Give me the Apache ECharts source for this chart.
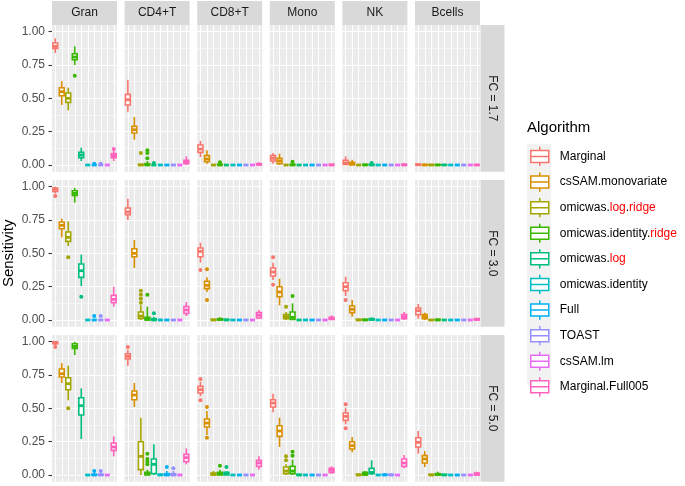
<!DOCTYPE html>
<html>
<head>
<meta charset="utf-8">
<script src="https://cdn.jsdelivr.net/npm/echarts@6/dist/echarts.min.js"></script>
<style>html,body{margin:0;padding:0;background:#fff}#chart{width:685px;height:486px}</style>
</head>
<body>
<div id="chart"></div>
<script>
// ---------- data ----------
const ALGOS = ['Marginal','csSAM.monovariate','omicwas.log.ridge','omicwas.identity.ridge','omicwas.log','omicwas.identity','Full','TOAST','csSAM.lm','Marginal.Full005'];
const CELLS = ['Gran','CD4+T','CD8+T','Mono','NK','Bcells'];
const FCS = ['FC = 1.7','FC = 3.0','FC = 5.0'];
const Y_TICKS = [0, 0.25, 0.5, 0.75, 1];

// box stats per algorithm: [min, q1, median, q3, max]
const box_Gran_17 = [[0.84,0.875,0.89,0.915,0.95],[0.45,0.52,0.55,0.58,0.63],[0.41,0.47,0.50,0.54,0.58],[0.75,0.79,0.81,0.835,0.89],[0.03,0.055,0.075,0.095,0.13],[0,0,0,0,0.005],[0,0,0,0,0.005],[0,0,0,0,0.005],[0,0,0,0,0.005],[0.03,0.055,0.07,0.085,0.11]];
const out_Gran_17 = [[3,0.67],[9,0.12],[6,0.01],[7,0.01]];
const box_CD4_17 = [[0.40,0.45,0.49,0.53,0.64],[0.19,0.24,0.265,0.29,0.36],[0,0,0,0.005,0.01],[0,0,0,0.01,0.03],[0,0,0,0,0.01],[0,0,0,0,0.005],[0,0,0,0,0],[0,0,0,0,0],[0,0,0,0,0],[0,0.01,0.02,0.035,0.065]];
const out_CD4_17 = [[2,0.09],[3,0.11],[3,0.09],[3,0.05],[4,0.015]];
const box_CD8_17 = [[0.06,0.095,0.12,0.15,0.18],[0.01,0.025,0.045,0.07,0.11],[0,0,0,0,0.005],[0,0,0,0.005,0.015],[0,0,0,0,0.005],[0,0,0,0,0],[0,0,0,0,0],[0,0,0,0,0],[0,0,0,0,0],[0,0,0.005,0.01,0.02]];
const out_CD8_17 = [[3,0.02]];
const box_Mono_17 = [[0.01,0.03,0.05,0.07,0.09],[0,0.01,0.03,0.05,0.085],[0,0,0,0,0.005],[0,0,0,0.005,0.015],[0,0,0,0,0.005],[0,0,0,0,0],[0,0,0,0,0],[0,0,0,0,0],[0,0,0,0,0],[0,0,0,0.005,0.01]];
const out_Mono_17 = [[3,0.025]];
const box_NK_17 = [[0,0.005,0.015,0.035,0.065],[0,0,0.01,0.02,0.04],[0,0,0,0,0.005],[0,0,0,0.005,0.01],[0,0,0,0.005,0.01],[0,0,0,0,0],[0,0,0,0,0],[0,0,0,0,0],[0,0,0,0,0],[0,0,0,0.005,0.015]];
const out_NK_17 = [[4,0.015]];
const box_B_17 = [[0,0,0.002,0.006,0.012],[0,0,0,0.004,0.01],[0,0,0,0.003,0.008],[0,0,0,0.003,0.008],[0,0,0,0.003,0.008],[0,0,0,0,0.005],[0,0,0,0,0.005],[0,0,0,0,0.005],[0,0,0,0,0.005],[0,0,0,0.003,0.008]];
const out_B_17 = [];

const box_Gran_30 = [[0.95,0.965,0.98,0.99,1.0],[0.62,0.685,0.71,0.735,0.76],[0.555,0.59,0.62,0.66,0.74],[0.88,0.935,0.95,0.97,0.99],[0.255,0.32,0.37,0.42,0.49],[0,0,0,0,0],[0,0,0,0,0.005],[0,0,0,0,0.005],[0,0,0,0,0],[0.10,0.13,0.155,0.185,0.25]];
const out_Gran_30 = [[0,0.93],[2,0.47],[4,0.175],[6,0.03],[7,0.03]];
const box_CD4_30 = [[0.75,0.79,0.81,0.84,0.91],[0.39,0.475,0.50,0.535,0.60],[0,0.012,0.03,0.06,0.11],[0,0,0.005,0.02,0.10],[0,0,0,0.01,0.025],[0,0,0,0,0.01],[0,0,0,0,0],[0,0,0,0,0],[0,0,0,0,0],[0.03,0.05,0.075,0.10,0.135]];
const out_CD4_30 = [[2,0.22],[2,0.19],[2,0.16],[2,0.13],[3,0.19],[4,0.05]];
const box_CD8_30 = [[0.43,0.475,0.515,0.54,0.58],[0.21,0.235,0.26,0.29,0.32],[0,0,0,0.005,0.01],[0,0,0.005,0.01,0.02],[0,0,0,0.005,0.01],[0,0,0,0,0],[0,0,0,0,0],[0,0,0,0,0],[0,0,0,0,0],[0.01,0.015,0.035,0.055,0.075]];
const out_CD8_30 = [[0,0.375],[1,0.38],[1,0.15]];
const box_Mono_30 = [[0.30,0.33,0.36,0.39,0.43],[0.11,0.175,0.21,0.25,0.31],[0,0.01,0.025,0.04,0.06],[0,0.005,0.02,0.06,0.125],[0,0,0,0,0.005],[0,0,0,0,0],[0,0,0,0,0],[0,0,0,0,0],[0,0,0,0,0],[0,0.005,0.01,0.02,0.035]];
const out_Mono_30 = [[0,0.47],[0,0.265],[2,0.10],[3,0.18]];
const box_NK_30 = [[0.18,0.22,0.25,0.28,0.325],[0.025,0.055,0.08,0.105,0.15],[0,0,0,0.005,0.01],[0,0,0,0.005,0.01],[0,0,0.005,0.01,0.02],[0,0,0,0,0],[0,0,0,0,0],[0,0,0,0,0],[0,0,0,0,0],[0,0.01,0.025,0.04,0.06]];
const out_NK_30 = [[0,0.15]];
const box_B_30 = [[0.01,0.04,0.07,0.09,0.12],[0,0.01,0.025,0.04,0.055],[0,0,0,0.002,0.005],[0,0,0,0.005,0.01],[0,0,0,0,0.005],[0,0,0,0,0],[0,0,0,0,0],[0,0,0,0,0],[0,0,0,0,0],[0,0,0.005,0.01,0.015]];
const out_B_30 = [];

const box_Gran_50 = [[0.975,0.985,0.99,1.0,1.0],[0.69,0.735,0.76,0.795,0.84],[0.56,0.64,0.685,0.73,0.82],[0.90,0.95,0.965,0.985,1.0],[0.27,0.45,0.52,0.58,0.65],[0,0,0,0,0.005],[0,0,0,0.005,0.015],[0,0,0,0.005,0.015],[0,0,0,0,0.005],[0.14,0.185,0.21,0.24,0.29]];
const out_Gran_50 = [[0,0.96],[2,0.50],[6,0.03],[7,0.03]];
const box_CD4_50 = [[0.82,0.87,0.89,0.91,0.94],[0.51,0.565,0.60,0.63,0.69],[0,0.04,0.14,0.25,0.43],[0,0,0.01,0.02,0.04],[0,0.01,0.08,0.12,0.23],[0,0,0,0.005,0.015],[0,0,0,0.01,0.03],[0,0,0,0.01,0.03],[0,0,0,0,0.01],[0.08,0.10,0.13,0.155,0.20]];
const out_CD4_50 = [[0,0.96],[3,0.16],[3,0.12],[3,0.10],[3,0.08],[6,0.06],[7,0.05]];
const box_CD8_50 = [[0.59,0.615,0.64,0.665,0.70],[0.30,0.36,0.39,0.42,0.48],[0,0,0.005,0.015,0.03],[0,0,0.01,0.02,0.04],[0,0,0.01,0.02,0.03],[0,0,0,0,0.005],[0,0,0,0,0.005],[0,0,0,0,0.005],[0,0,0,0,0],[0.04,0.065,0.09,0.11,0.14]];
const out_CD8_50 = [[0,0.72],[0,0.56],[1,0.51],[1,0.28],[3,0.07],[4,0.06]];
const box_Mono_50 = [[0.47,0.51,0.54,0.565,0.61],[0.21,0.29,0.33,0.37,0.43],[0,0.01,0.03,0.06,0.08],[0,0.01,0.03,0.065,0.115],[0,0,0,0.005,0.01],[0,0,0,0,0],[0,0,0,0,0],[0,0,0,0,0],[0,0,0,0,0],[0.01,0.02,0.035,0.05,0.065]];
const out_Mono_50 = [[2,0.14],[2,0.11],[3,0.175],[3,0.145]];
const box_NK_50 = [[0.38,0.41,0.44,0.465,0.505],[0.17,0.195,0.22,0.25,0.285],[0,0,0,0.005,0.015],[0,0,0.005,0.02,0.03],[0,0.01,0.02,0.05,0.11],[0,0,0,0,0.005],[0,0,0,0.005,0.015],[0,0,0,0.005,0.01],[0,0,0,0,0],[0.05,0.065,0.09,0.12,0.15]];
const out_NK_50 = [[0,0.53],[0,0.35]];
const box_B_50 = [[0.16,0.21,0.245,0.28,0.33],[0.06,0.09,0.12,0.145,0.18],[0,0,0,0.005,0.01],[0,0,0.005,0.01,0.025],[0,0,0,0.005,0.01],[0,0,0,0,0],[0,0,0,0,0],[0,0,0,0,0],[0,0,0,0,0],[0,0,0.005,0.015,0.025]];
const out_B_50 = [];

// panel table (rows = FC, cols = cell type)
const PANELS = [
  [[box_Gran_17,out_Gran_17],[box_CD4_17,out_CD4_17],[box_CD8_17,out_CD8_17],[box_Mono_17,out_Mono_17],[box_NK_17,out_NK_17],[box_B_17,out_B_17]],
  [[box_Gran_30,out_Gran_30],[box_CD4_30,out_CD4_30],[box_CD8_30,out_CD8_30],[box_Mono_30,out_Mono_30],[box_NK_30,out_NK_30],[box_B_30,out_B_30]],
  [[box_Gran_50,out_Gran_50],[box_CD4_50,out_CD4_50],[box_CD8_50,out_CD8_50],[box_Mono_50,out_Mono_50],[box_NK_50,out_NK_50],[box_B_50,out_B_50]]
];

// ---------- styling / layout ----------
const COLORS = ['#F8766D','#D89000','#A3A500','#39B600','#00BF7D','#00BFC4','#00B0F6','#9590FF','#E76BF3','#FF62BC'];
const FONT = '"Liberation Sans", Arial, Helvetica, sans-serif';
const LEFT0 = 52, COL_STEP = 72.6, PW = 65;
const ROW_T = [31.7, 186.7, 341.7], PH = 133.3, EXP = 6.67;
const STRIP = 24;

const chart = echarts.init(document.getElementById('chart'), null, {renderer: 'canvas'});

const grids = [], xAxes = [], yAxes = [], series = [], graphics = [];

function renderBox(params, api) {
  const x = api.value(0);
  const pMin = api.coord([x, api.value(1)]);
  const pQ1 = api.coord([x, api.value(2)]);
  const pMed = api.coord([x, api.value(3)]);
  const pQ3 = api.coord([x, api.value(4)]);
  const pMax = api.coord([x, api.value(5)]);
  const bw = api.size([1, 0])[0] * 0.75;
  const col = COLORS[x];
  const lw = 1.6;
  return {
    type: 'group',
    children: [
      {type: 'line', shape: {x1: pMax[0], y1: pMax[1], x2: pQ3[0], y2: pQ3[1]}, style: {stroke: col, lineWidth: lw}},
      {type: 'line', shape: {x1: pQ1[0], y1: pQ1[1], x2: pMin[0], y2: pMin[1]}, style: {stroke: col, lineWidth: lw}},
      {type: 'rect', shape: {x: pQ3[0] - bw / 2, y: pQ3[1], width: bw, height: pQ1[1] - pQ3[1]}, style: {fill: '#FFFFFF', stroke: col, lineWidth: lw}},
      {type: 'line', shape: {x1: pMed[0] - bw / 2, y1: pMed[1], x2: pMed[0] + bw / 2, y2: pMed[1]}, style: {stroke: col, lineWidth: 2.8}}
    ]
  };
}

for (let r = 0; r < 3; r++) {
  for (let c = 0; c < 6; c++) {
    const g = r * 6 + c;
    const left = LEFT0 + COL_STEP * c;
    grids.push({left: left, top: ROW_T[r], width: PW, height: PH, containLabel: false});
    // panel background
    graphics.push({type: 'rect', z: -10, silent: true, shape: {x: left, y: ROW_T[r] - EXP, width: PW, height: PH + 2 * EXP}, style: {fill: '#EBEBEB'}});
    // bottom axis (real ticks on last row)
    xAxes.push({
      type: 'category', data: ALGOS, gridIndex: g, position: 'bottom', offset: EXP,
      axisLine: {show: false}, axisLabel: {show: false, interval: 0}, splitLine: {show: false},
      axisTick: {show: r === 2, interval: 0, alignWithLabel: true, length: 4, lineStyle: {color: '#333333', width: 1.1}}
    });
    // top axis used for vertical white grid lines
    xAxes.push({
      type: 'category', data: ALGOS, gridIndex: g, position: 'top', offset: EXP,
      axisLine: {show: false}, axisLabel: {show: false, interval: 0}, splitLine: {show: false},
      axisTick: {show: true, interval: 0, inside: true, alignWithLabel: true, length: PH + 2 * EXP, lineStyle: {color: '#FFFFFF', width: 1.1}}
    });
    const ya = {
      type: 'value', gridIndex: g, min: 0, max: 1, interval: 0.25,
      axisLine: {show: false},
      axisTick: {show: c === 0, length: 3.5, lineStyle: {color: '#333333', width: 1.1}},
      axisLabel: {show: c === 0, margin: 7, color: '#4D4D4D', fontSize: 12, fontFamily: FONT, formatter: v => Y_TICKS.indexOf(v) >= 0 ? v.toFixed(2) : ''},
      splitLine: {show: true, lineStyle: {color: '#FFFFFF', width: 1.1}},
      minorTick: {show: false, splitNumber: 2},
      minorSplitLine: {show: true, lineStyle: {color: '#FFFFFF', width: 0.55}}
    };
    if (r === 1 && c === 0) {
      ya.name = 'Sensitivity';
      ya.nameLocation = 'middle';
      ya.nameGap = 36;
      ya.nameTextStyle = {fontSize: 15, color: '#000000', fontFamily: FONT};
    }
    yAxes.push(ya);

    const [boxes, outs] = PANELS[r][c];
    series.push({
      type: 'custom', xAxisIndex: 2 * g, yAxisIndex: g, z: 2, clip: false,
      renderItem: renderBox,
      encode: {x: 0, y: [1, 2, 3, 4, 5]},
      data: boxes.map((s, i) => [i].concat(s))
    });
    series.push({
      type: 'scatter', xAxisIndex: 2 * g, yAxisIndex: g, z: 3,
      symbolSize: 4,
      itemStyle: {color: p => COLORS[p.value[0]], opacity: 1},
      data: outs
    });

    // top strips
    if (r === 0) {
      graphics.push({type: 'rect', z: -5, silent: true, shape: {x: left, y: ROW_T[0] - EXP - STRIP, width: PW, height: STRIP}, style: {fill: '#D9D9D9'}});
      graphics.push({type: 'text', z: -4, silent: true, x: left + PW / 2, y: ROW_T[0] - EXP - STRIP / 2,
        style: {text: CELLS[c], fill: '#1A1A1A', fontSize: 12, fontFamily: FONT, textAlign: 'center', textVerticalAlign: 'middle'}});
    }
  }
  // right strips
  const sx = LEFT0 + COL_STEP * 5 + PW;
  graphics.push({type: 'rect', z: -5, silent: true, shape: {x: sx + 0.5, y: ROW_T[r] - EXP, width: STRIP, height: PH + 2 * EXP}, style: {fill: '#D9D9D9'}});
  graphics.push({type: 'text', z: -4, silent: true, x: sx + 0.5 + STRIP / 2, y: ROW_T[r] + PH / 2, rotation: -Math.PI / 2,
    style: {text: FCS[r], fill: '#1A1A1A', fontSize: 12, fontFamily: FONT, textAlign: 'center', textVerticalAlign: 'middle'}});
}

// legend helper series (one per algorithm)
ALGOS.forEach((name, i) => {
  series.push({type: 'custom', name: name, xAxisIndex: 0, yAxisIndex: 0, data: [], renderItem: () => null, itemStyle: {color: '#FFFFFF', borderColor: COLORS[i]}});
});

// legend key background
const LEG_TOP = 143.7, LEG_STEP = 24.1;
graphics.push({type: 'rect', z: -5, silent: true, shape: {x: 527, y: LEG_TOP, width: 24, height: LEG_STEP * ALGOS.length}, style: {fill: '#F2F2F2'}});

const option = {
  animation: false,
  backgroundColor: '#FFFFFF',
  textStyle: {fontFamily: FONT},
  title: {text: 'Algorithm', left: 527, top: 120, padding: 0, textStyle: {fontSize: 15, fontWeight: 'normal', color: '#000000', fontFamily: FONT}},
  grid: grids,
  xAxis: xAxes,
  yAxis: yAxes,
  legend: {
    orient: 'vertical', left: 530, top: LEG_TOP + 2.4, padding: 0,
    itemWidth: 18, itemHeight: 19.2, itemGap: LEG_STEP - 19.2,
    selectedMode: false,
    icon: 'path://M12,2.4L12,6M3,6L21,6L21,18L3,18ZM3,12L21,12M12,18L12,21.6',
    data: ALGOS.map((n, i) => ({name: n, itemStyle: {color: '#FFFFFF', borderColor: COLORS[i], borderWidth: 1.5}})),
    formatter: name => name.replace(/\.(log|ridge)/g, '.{r|$1}'),
    textStyle: {fontSize: 12, color: '#000000', fontFamily: FONT, padding: [0, 0, 0, 6],
      rich: {r: {color: '#FF0000', fontSize: 12, fontFamily: FONT}}}
  },
  graphic: graphics,
  series: series
};
chart.setOption(option);
</script>
</body>
</html>
